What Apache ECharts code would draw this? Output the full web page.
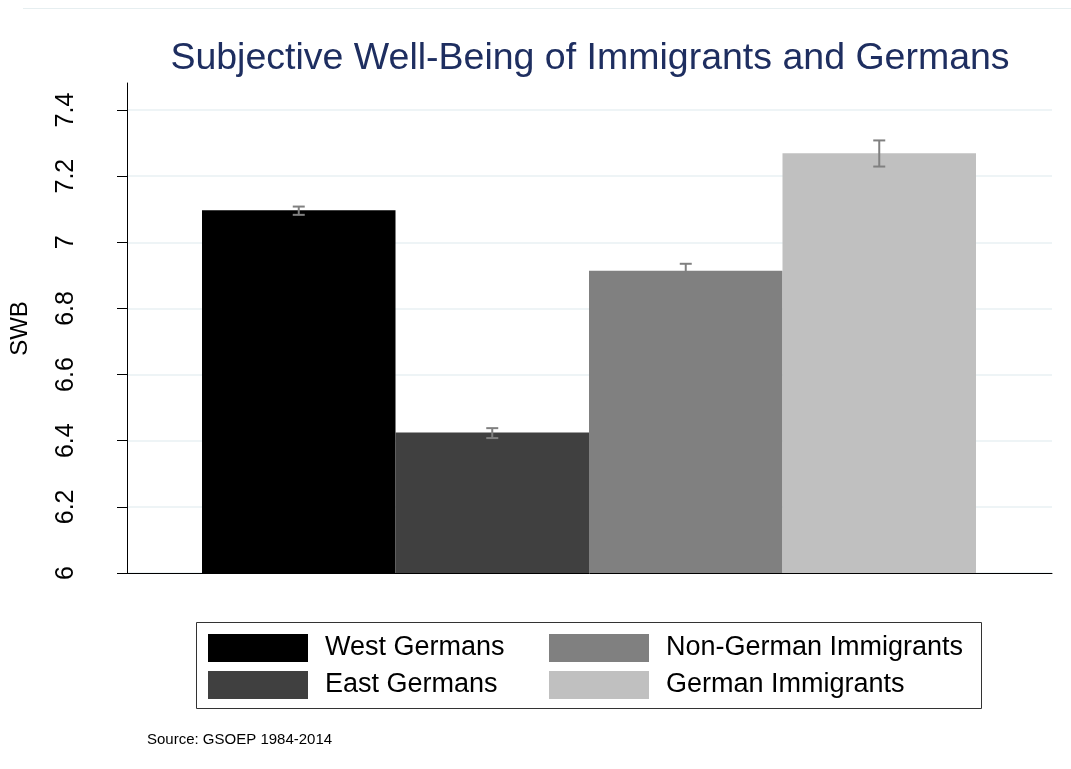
<!DOCTYPE html>
<html>
<head>
<meta charset="utf-8">
<script src="https://cdn.jsdelivr.net/npm/echarts@6/dist/echarts.min.js"></script>
<style>html,body{margin:0;padding:0;background:#fff;}#c{width:1071px;height:769px;}</style>
</head>
<body>
<div id="c"></div>
<script>
// ---- data ----
const groups = ['West Germans', 'East Germans', 'Non-German Immigrants', 'German Immigrants'];
const swbMean = [7.097, 6.425, 6.914, 7.269];
const ciLow = [7.083, 6.408, 6.893, 7.229];
const ciHigh = [7.108, 6.438, 6.935, 7.308];
const barColors = ['#000000', '#404040', '#808080', '#c0c0c0'];
const yTicks = [6, 6.2, 6.4, 6.6, 6.8, 7, 7.2, 7.4];
const yRegionTop = 7.482; // plot region (axis line) extends a bit above the last tick
const titleText = 'Subjective Well-Being of Immigrants and Germans';
const noteText = 'Source: GSOEP 1984-2014';

const FONT = '"Liberation Sans", Arial, sans-serif';
const chart = echarts.init(document.getElementById('c'), null, {renderer: 'canvas'});

const barSeries = groups.map((g, i) => ({
  name: g,
  type: 'bar',
  xAxisIndex: 1,
  yAxisIndex: 1,
  barWidth: '100%',
  barGap: '-100%',
  itemStyle: {color: barColors[i]},
  data: groups.map((_, j) => (j === i ? swbMean[i] : '-')),
  silent: true,
  z: 2
}));

const errSeries = {
  type: 'custom',
  xAxisIndex: 1,
  yAxisIndex: 1,
  z: 5,
  silent: true,
  data: groups.map((_, i) => [i, ciLow[i], ciHigh[i]]),
  renderItem: function (params, api) {
    const x = api.value(0);
    const lo = api.coord([x, api.value(1)]);
    const hi = api.coord([x, api.value(2)]);
    const hw = 6;
    const st = {stroke: '#808080', lineWidth: 2};
    return {
      type: 'group',
      children: [
        {type: 'line', shape: {x1: lo[0], y1: lo[1], x2: hi[0], y2: hi[1]}, style: st},
        {type: 'line', shape: {x1: lo[0] - hw, y1: lo[1], x2: lo[0] + hw, y2: lo[1]}, style: st},
        {type: 'line', shape: {x1: hi[0] - hw, y1: hi[1], x2: hi[0] + hw, y2: hi[1]}, style: st}
      ]
    };
  }
};

const yMin = yTicks[0], yMax = yTicks[yTicks.length - 1];

chart.setOption({
  backgroundColor: '#ffffff',
  animation: false,
  title: {
    text: titleText,
    left: 590, textAlign: 'center',
    top: 40,
    padding: 0,
    textStyle: {fontFamily: FONT, fontSize: 37.5, fontWeight: 'normal', color: '#1e2e60'}
  },
  grid: [
    {left: 127, right: 19, top: 110, bottom: 196, containLabel: false, outerBoundsMode: 'none'},
    {left: 202, right: 95, top: 110, bottom: 196, containLabel: false, outerBoundsMode: 'none'},
    {left: 127, right: 19, top: 83, bottom: 196, containLabel: false, outerBoundsMode: 'none'}
  ],
  xAxis: [
    {type: 'value', gridIndex: 0, min: 0, max: 1, show: true,
     axisLine: {show: true, lineStyle: {color: '#000', width: 1}},
     axisTick: {show: false}, axisLabel: {show: false}, splitLine: {show: false}},
    {type: 'category', gridIndex: 1, data: groups, show: false, boundaryGap: true},
    {type: 'value', gridIndex: 2, min: 0, max: 1, show: false}
  ],
  yAxis: [
    {type: 'value', gridIndex: 0, min: yMin, max: yMax, interval: 0.2,
     name: 'SWB', nameLocation: 'middle', nameGap: 95,
     nameTextStyle: {fontFamily: FONT, fontSize: 24, color: '#000', padding: [0, 0, 0, 26]},
     axisLine: {show: false},
     axisTick: {show: true, length: 10, lineStyle: {color: '#000'}},
     axisLabel: {rotate: 90, margin: 48, fontFamily: FONT, fontSize: 25, color: '#000',
       formatter: v => String(Math.round(v * 10) / 10)},
     splitLine: {show: true, lineStyle: {color: '#e8f0f3', width: 1.5}}},
    {type: 'value', gridIndex: 1, min: yMin, max: yMax, show: false, splitLine: {show: false}},
    {type: 'value', gridIndex: 2, min: yMin, max: yRegionTop, show: true,
     axisLine: {show: true, lineStyle: {color: '#000', width: 1}},
     axisTick: {show: false}, axisLabel: {show: false}, splitLine: {show: false}}
  ],
  legend: [
    {data: [groups[0], groups[1]], orient: 'vertical', left: 208, top: 634, padding: 0,
     itemWidth: 100, itemHeight: 28, itemGap: 9, icon: 'rect', selectedMode: false,
     textStyle: {fontFamily: FONT, fontSize: 27, color: '#000', padding: [0, 0, 0, 12]}},
    {data: [groups[2], groups[3]], orient: 'vertical', left: 549, top: 634, padding: 0,
     itemWidth: 100, itemHeight: 28, itemGap: 9, icon: 'rect', selectedMode: false,
     textStyle: {fontFamily: FONT, fontSize: 27, color: '#000', padding: [0, 0, 0, 12]}}
  ],
  graphic: [
    {type: 'line', shape: {x1: 23, y1: 8.5, x2: 1071, y2: 8.5}, style: {stroke: '#e6eef0', lineWidth: 1}, silent: true},
    {type: 'rect', shape: {x: 196.5, y: 622.5, width: 785, height: 86}, style: {fill: 'none', stroke: '#333', lineWidth: 1}, silent: true},
    {type: 'text', left: 147, top: 732, style: {text: noteText, fontFamily: FONT, fontSize: 15, fill: '#000'}, silent: true}
  ],
  series: barSeries.concat([errSeries])
});
</script>
</body>
</html>
